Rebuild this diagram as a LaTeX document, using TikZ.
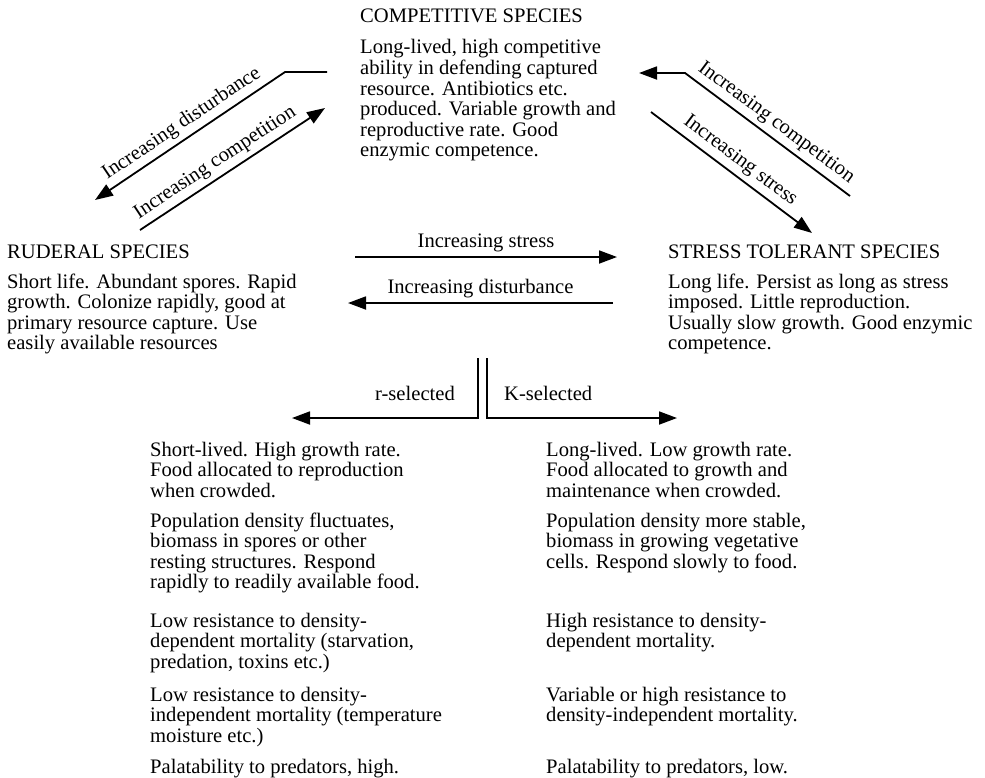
\documentclass[tikz,border=0pt]{standalone}
\usepackage{fontspec}
\setmainfont{Liberation Serif}
\usetikzlibrary{arrows.meta}
\newcommand{\txtfont}{\fontsize{20.6}{20.5}\selectfont}
\begin{document}
\begin{tikzpicture}[x=1pt, y=-1pt,
        every node/.style={font=\txtfont, inner sep=0pt},
        blk/.style={anchor=north west, align=left, yshift=14.35pt},
        arr/.style={line width=1.8pt, -{Triangle[length=18pt,width=13pt]}},
        lbl/.style={sloped, above, inner sep=4.5pt}]
        \useasboundingbox (0,0) rectangle (985,777);

        \node[blk] (compt) at (360,22) {\strut COMPETITIVE SPECIES};
        \node[blk] (compb) at (360,53) {\strut Long-lived, high competitive\\ability in defending captured\\resource. Antibiotics etc.\\produced. Variable growth and\\reproductive rate. Good\\enzymic competence.};

        \node[blk] (rudt) at (7,258) {\strut RUDERAL SPECIES};
        \node[blk] (rudb) at (7,288) {\strut Short life. Abundant spores. Rapid\\growth. Colonize rapidly, good at\\primary resource capture. Use\\easily available resources};

        \node[blk] (stolt) at (668,258) {\strut STRESS TOLERANT SPECIES};
        \node[blk] (stolb) at (668,288) {\strut Long life. Persist as long as stress\\imposed. Little reproduction.\\Usually slow growth. Good enzymic\\competence.};

        \node[anchor=base east] (rsel) at (455,400) {r-selected};
        \node[anchor=base west] (ksel) at (504,400) {K-selected};

        \node[blk] (r1) at (150,456) {\strut Short-lived. High growth rate.\\Food allocated to reproduction\\when crowded.};
        \node[blk] (r2) at (150,527) {\strut Population density fluctuates,\\biomass in spores or other\\resting structures. Respond\\rapidly to readily available food.};
        \node[blk] (r3) at (150,627) {\strut Low resistance to density-\\dependent mortality (starvation,\\predation, toxins etc.)};
        \node[blk] (r4) at (150,701) {\strut Low resistance to density-\\independent mortality (temperature\\moisture etc.)};
        \node[blk] (r5) at (150,773) {\strut Palatability to predators, high.};

        \node[blk] (k1) at (546,456) {\strut Long-lived. Low growth rate.\\Food allocated to growth and\\maintenance when crowded.};
        \node[blk] (k2) at (546,527) {\strut Population density more stable,\\biomass in growing vegetative\\cells. Respond slowly to food.};
        \node[blk] (k3) at (546,627) {\strut High resistance to density-\\dependent mortality.};
        \node[blk] (k4) at (546,701) {\strut Variable or high resistance to\\density-independent mortality.};
        \node[blk] (k5) at (546,773) {\strut Palatability to predators, low.};

        \coordinate (dl1) at (327,72);
        \coordinate (dl2) at (285,72);
        \coordinate (dl3) at (95,200);
        \coordinate (cl1) at (140,230);
        \coordinate (cl2) at (325,108);

        \coordinate (cr1) at (850,196);
        \coordinate (cr2) at (685,73);
        \coordinate (cr3) at (639,73);
        \coordinate (sr1) at (651,112);
        \coordinate (sr2) at (812,233);

        \coordinate (sm1) at (355,257);
        \coordinate (sm2) at (617,257);
        \coordinate (dm1) at (613,303);
        \coordinate (dm2) at (348,303);

        \coordinate (rtop) at (478,358);
        \coordinate (rbot) at (478,418);
        \coordinate (rtip) at (292,418);
        \coordinate (ktop) at (487,358);
        \coordinate (kbot) at (487,418);
        \coordinate (ktip) at (677,418);

        \draw[arr] (dl1) -- (dl2) -- node[lbl] {Increasing disturbance} (dl3);
        \draw[arr] (cl1) -- node[lbl, pos=0.45] {Increasing competition} (cl2);
        \draw[arr] (cr1) -- node[lbl] {Increasing competition} (cr2) -- (cr3);
        \draw[arr] (sr1) -- node[lbl] {Increasing stress} (sr2);
        \draw[arr] (sm1) -- node[lbl] {Increasing stress} (sm2);
        \draw[arr] (dm1) -- node[lbl] {Increasing disturbance} (dm2);
        \draw[arr] (rtop) -- (rbot) -- (rtip);
        \draw[arr] (ktop) -- (kbot) -- (ktip);
    \end{tikzpicture}
\end{document}
